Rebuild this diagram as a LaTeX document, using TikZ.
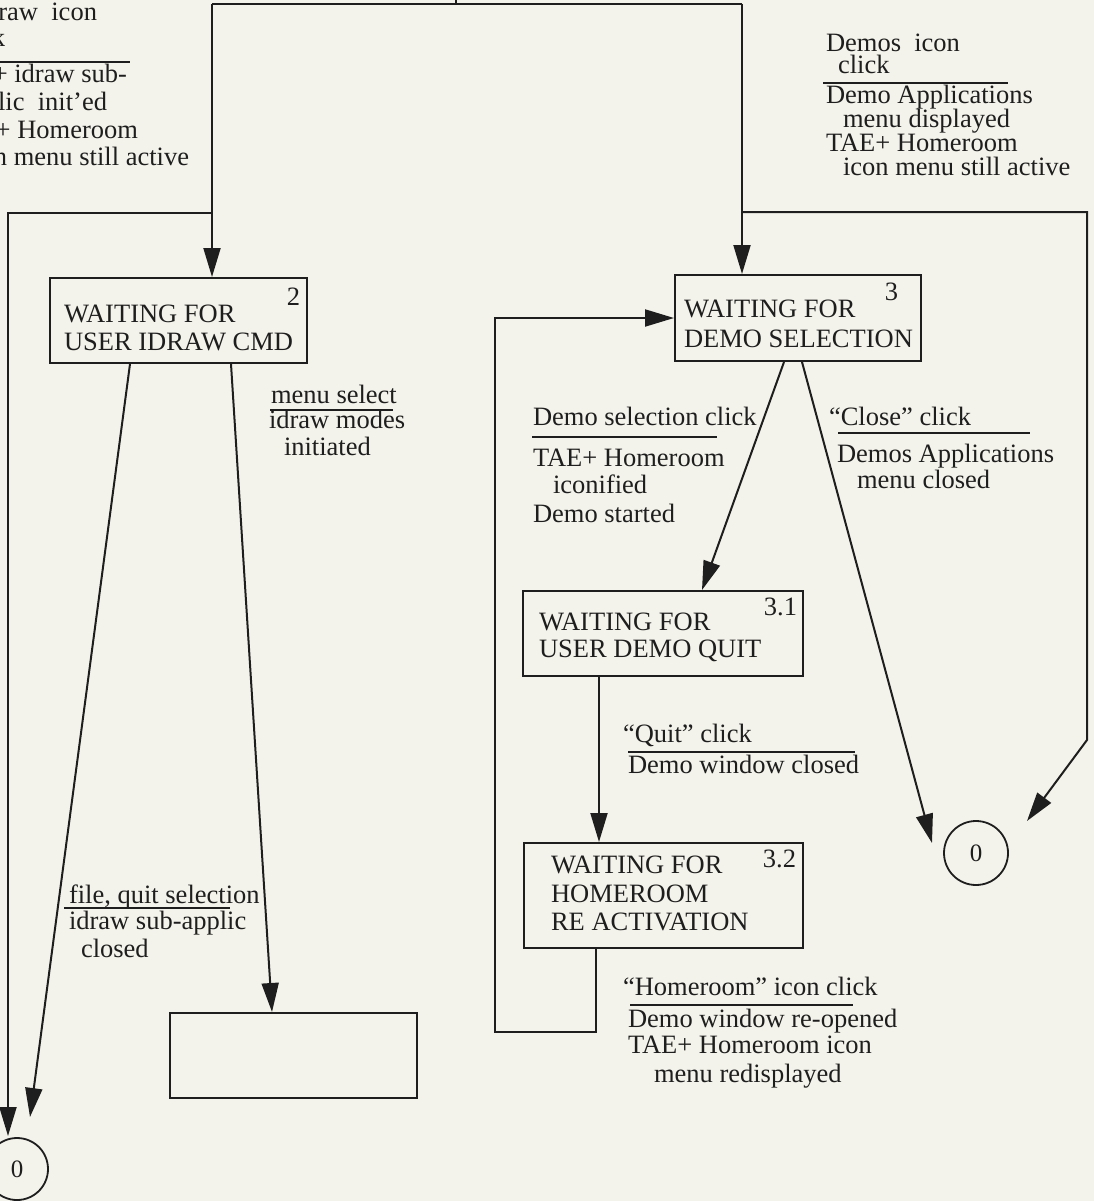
\documentclass[tikz,border=0pt]{standalone}
\usepackage{fontspec}
\setmainfont{Liberation Serif}
\usetikzlibrary{arrows.meta,calc}
\definecolor{paper}{RGB}{244,243,235}
\definecolor{ink}{RGB}{30,30,30}
\begin{document}
\begin{tikzpicture}[x=1pt,y=-1pt,color=ink,line width=2pt,
  state/.style={draw=ink,rectangle,inner sep=0pt,line width=2pt},
  txt/.style={anchor=base west,inner sep=0pt,font=\fontsize{26.5}{28}\selectfont},
  txtr/.style={txt,anchor=base east},
  final/.style={draw=ink,circle,inner sep=0pt,line width=1.8pt,font=\fontsize{25}{26}\selectfont},
  arr/.style={-{Triangle[length=29pt,width=17pt]}},
  bar/.style={line width=1.8pt}]

% page and paper
\fill[paper] (0,0) rectangle (1094,1201);
\useasboundingbox (0,0) rectangle (1094,1201);
\clip (0,0) rectangle (1094,1201);

% states
\node[state,minimum width=257pt,minimum height=85pt] (s2) at (178.5,320.5) {};
\node[state,minimum width=246pt,minimum height=86pt] (s3) at (798,318) {};
\node[state,minimum width=280pt,minimum height=85pt] (s31) at (663,633.5) {};
\node[state,minimum width=279pt,minimum height=105pt] (s32) at (663.5,895.5) {};
\node[state,minimum width=247pt,minimum height=85pt] (s4) at (293.5,1055.5) {};
\node[final,minimum size=62pt] (z1) at (17,1169) {0};
\node[final,minimum size=64pt] (z2) at (976,853) {0};

% state texts
\node[txt] (s2a) at (63,322) {WAITING FOR};
\node[txt] (s2b) at (63,350) {USER IDRAW CMD};
\node[txtr] (s2n) at (301,305) {2};
\node[txt] (s3a) at (683,317) {WAITING FOR};
\node[txt] (s3b) at (683,347) {DEMO SELECTION};
\node[txtr] (s3n) at (899,300) {3};
\node[txt] (s31a) at (538,630) {WAITING FOR};
\node[txt] (s31b) at (538,657) {USER DEMO QUIT};
\node[txtr] (s31n) at (798,615) {3.1};
\node[txt] (s32a) at (550,873) {WAITING FOR};
\node[txt] (s32b) at (550,902) {HOMEROOM};
\node[txt] (s32c) at (550,930) {RE ACTIVATION};
\node[txtr] (s32n) at (797,867) {3.2};

% entry fork from above
\coordinate (src) at (456,-20);
\coordinate (fork) at (456,4);
\coordinate (fl) at (212,4);
\coordinate (fr) at (742,4);
\coordinate (bl) at (212,213);
\coordinate (br) at (742,212);
\coordinate (rc) at (1087,740);
\coordinate (z1a) at (8,1136);
\coordinate (z1b) at (30,1117);
\coordinate (z2a) at (932,843);
\coordinate (z2b) at (1027,821);
\coordinate (lp) at (495,1032);

\draw (src) -- (fork);
\draw (fl) -- (fr);
\draw[arr] (fl) -- (fl |- s2.north);
\draw[arr] (fr) -- (fr |- s3.north);
\draw[arr] (bl) -| (z1a);
\draw[arr] (br) -| (rc) -- (z2b);

% transitions
\draw[arr] ([xshift=81pt]s2.south west) -- (z1b);
\draw[arr] ([xshift=182pt]s2.south west) -- ([xshift=103pt]s4.north west);
\draw[arr] ([xshift=110pt]s3.south west) -- ([xshift=180pt]s31.north west);
\draw[arr] ([xshift=128pt]s3.south west) -- (z2a);
\draw[arr] ([xshift=77pt]s31.south west) -- ([xshift=76pt]s32.north west);
\draw[arr] ([xshift=73pt]s32.south west) |- (lp) |- (s3.west);

% idraw icon label
\node[txtr] (la1) at (98,21) {idraw\ \ icon};
\node[txtr] (la2) at (6,47) {click};
\draw[bar] (-5,62) -- (130,62);
\node[txtr] (la3) at (128,83) {TAE+ idraw sub-};
\node[txtr] (la4) at (108,111) {applic\ \ init'ed};
\node[txtr] (la5) at (139,139) {TAE+ Homeroom};
\node[txtr] (la6) at (190,166) {icon menu still active};

% demos icon label
\node[txt] (lb1) at (825,52) {Demos\ \ icon};
\node[txt] (lb2) at (837,74) {click};
\draw[bar] (823,83) -- (1008,83);
\node[txt] (lb3) at (825,104) {Demo Applications};
\node[txt] (lb4) at (842,128) {menu displayed};
\node[txt] (lb5) at (825,152) {TAE+ Homeroom};
\node[txt] (lb6) at (842,176) {icon menu still active};

% menu select label
\node[txt] (lc1) at (270,403) {menu select};
\draw[bar] (270,410) -- (393,410);
\node[txt] (lc2) at (268,428) {idraw modes};
\node[txt] (lc3) at (283,455) {initiated};

% file quit label
\node[txt] (ld1) at (68,903) {file, quit selection};
\draw[bar] (64,908) -- (230,908);
\node[txt] (ld2) at (68,929) {idraw sub-applic};
\node[txt] (ld3) at (80,957) {closed};

% demo selection label
\node[txt] (le1) at (532,425) {Demo selection click};
\draw[bar] (532,437) -- (717,437);
\node[txt] (le2) at (532,466) {TAE+ Homeroom};
\node[txt] (le3) at (552,493) {iconified};
\node[txt] (le4) at (532,522) {Demo started};

% close label
\node[txt] (lf1) at (828,425) {“Close” click};
\draw[bar] (838,433) -- (1030,433);
\node[txt] (lf2) at (836,462) {Demos Applications};
\node[txt] (lf3) at (856,488) {menu closed};

% quit label
\node[txt] (lg1) at (622,742) {“Quit” click};
\draw[bar] (628,752) -- (855,752);
\node[txt] (lg2) at (627,773) {Demo window closed};

% homeroom label
\node[txt] (lh1) at (622,995) {“Homeroom” icon click};
\draw[bar] (630,1005) -- (853,1005);
\node[txt] (lh2) at (627,1027) {Demo window re-opened};
\node[txt] (lh3) at (627,1053) {TAE+ Homeroom icon};
\node[txt] (lh4) at (653,1082) {menu redisplayed};
\end{tikzpicture}
\end{document}
